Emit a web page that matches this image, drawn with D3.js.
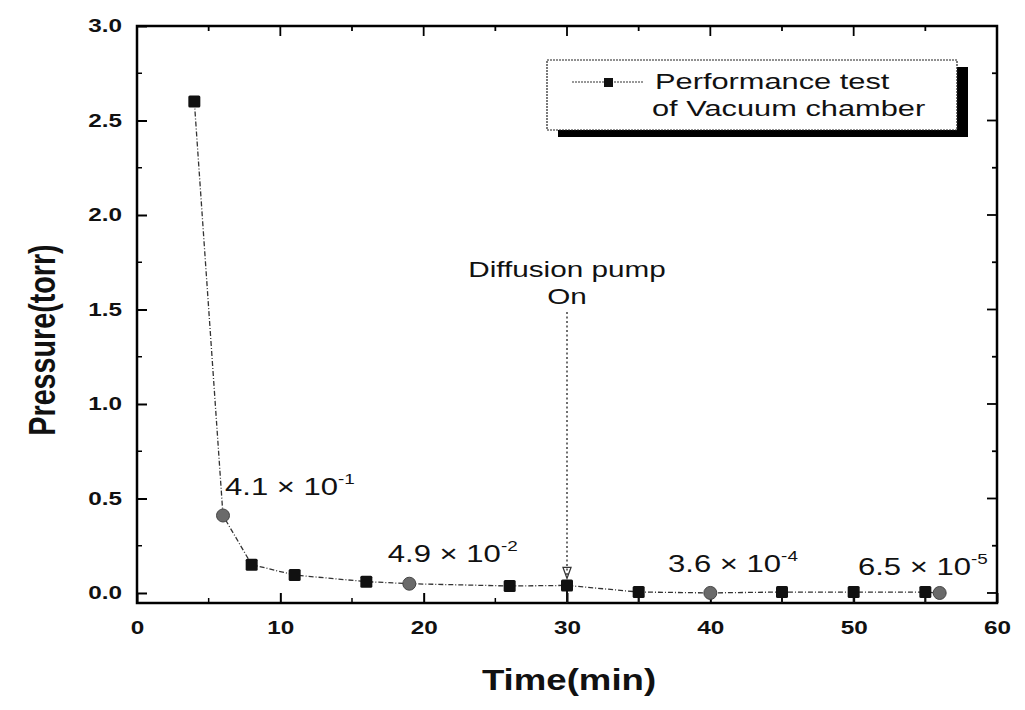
<!DOCTYPE html>
<html><head><meta charset="utf-8">
<script src="https://cdn.jsdelivr.net/npm/d3@7"></script>
<style>body{margin:0;background:#fff}svg text{font-family:"Liberation Sans",Arial,sans-serif}</style>
</head><body><svg id="c" width="1025" height="710"></svg>
<script>
const times = [4, 6, 8, 11, 16, 19, 26, 30, 35, 40, 45, 50, 55, 56];
const pressures = [2.6, 0.41, 0.15, 0.095, 0.06, 0.049, 0.037, 0.04, 0.005, 0.00036, 0.005, 0.005, 0.005, 0.000065];
const highlighted = [false, true, false, false, false, true, false, false, false, true, false, false, false, true];
const errorBarTimes = [30, 35, 45, 50, 55];
const xTicks = [0, 10, 20, 30, 40, 50, 60];
const yTicks = [0.0, 0.5, 1.0, 1.5, 2.0, 2.5, 3.0];
const annotations = [
  {t: 6.14, p: 0.52, base: "4.1 × 10", exp: "-1"},
  {t: 17.5, p: 0.165, base: "4.9 × 10", exp: "-2"},
  {t: 37.05, p: 0.11, base: "3.6 × 10", exp: "-4"},
  {t: 50.3, p: 0.095, base: "6.5 × 10", exp: "-5"}
];
const pumpLabel = ["Diffusion pump", "On"];
const pumpTime = 30, pumpPressure = 0.04;
const legendLines = ["Performance test", "of Vacuum chamber"];

const SX = 1.35; // horizontal stretch of the reference's lettering
const svg = d3.select("#c");
const L = 137, R = 997, T = 26, B = 603;
const x = d3.scaleLinear().domain([0, 60]).range([L, R]);
const y = d3.scaleLinear().domain([-0.053, 3.0]).range([B, T]);

function txt(px, py, s, size, opts = {}) {
  const t = svg.append("text")
    .attr("transform", `translate(${px},${py}) scale(${opts.sx || SX},1)`)
    .attr("font-size", size).attr("fill", "#111")
    .attr("text-anchor", opts.anchor || "start")
    .attr("font-weight", opts.bold ? "bold" : "normal");
  return t;
}

// frame
svg.append("rect").attr("x", L).attr("y", T).attr("width", R - L).attr("height", B - T)
  .attr("fill", "none").attr("stroke", "#000").attr("stroke-width", 2.5);

// axes
const xAxis = d3.axisBottom(x).tickValues(xTicks).tickFormat(d3.format("d")).tickSizeInner(-10).tickSizeOuter(0).tickPadding(18);
const gx = svg.append("g").attr("transform", `translate(0,${B})`).call(xAxis);
const yAxis = d3.axisLeft(y).tickValues(yTicks).tickFormat(d3.format(".1f")).tickSizeInner(-10).tickSizeOuter(0).tickPadding(15);
const gy = svg.append("g").attr("transform", `translate(${L},0)`).call(yAxis);
[gx, gy].forEach(g => {
  g.select(".domain").remove();
  g.selectAll("line").attr("stroke-width", 2);
  g.selectAll("text").attr("font-size", 18).attr("font-weight", "bold").attr("fill", "#111")
    .attr("font-family", "Liberation Sans, Arial, sans-serif");
});
gx.selectAll("text").attr("transform", `scale(${SX},1)`);
gy.selectAll("text").attr("x", -15 / SX).attr("transform", `scale(${SX},1)`);

// minor ticks
const xMinor = d3.range(5, 60, 10);
const yMinor = d3.range(0.25, 3, 0.5);
svg.append("g").selectAll("line").data(xMinor).join("line")
  .attr("x1", d => x(d)).attr("x2", d => x(d)).attr("y1", B).attr("y2", B - 5).attr("stroke", "#000").attr("stroke-width", 1.5);
svg.append("g").selectAll("line").data(yMinor).join("line")
  .attr("y1", d => y(d)).attr("y2", d => y(d)).attr("x1", L).attr("x2", L + 5).attr("stroke", "#000").attr("stroke-width", 1.5);
// mirrored top/right ticks
svg.append("g").selectAll("line").data(xTicks.concat(xMinor)).join("line")
  .attr("x1", d => x(d)).attr("x2", d => x(d)).attr("y1", T).attr("y2", d => T + (d % 10 === 0 ? 10 : 5)).attr("stroke", "#000").attr("stroke-width", 1.8);
svg.append("g").selectAll("line").data(yTicks.concat(yMinor)).join("line")
  .attr("y1", d => y(d)).attr("y2", d => y(d)).attr("x1", R).attr("x2", d => R - (Math.abs(d * 2 - Math.round(d * 2)) < 1e-6 ? 10 : 5)).attr("stroke", "#000").attr("stroke-width", 1.8);

// axis titles
txt((L + R) / 2 + 2, 690, "Time(min)", 30, {anchor: "middle", bold: true, sx: 1.22}).text("Time(min)");
svg.append("text").attr("transform", `translate(55,340) rotate(-90) scale(1,1.3)`).attr("text-anchor", "middle")
  .attr("font-size", 28.7).attr("font-weight", "bold").attr("fill", "#111").text("Pressure(torr)");

// data line
const data = times.map((t, i) => ({t, p: pressures[i], h: highlighted[i]}));
svg.append("path").datum(data)
  .attr("d", d3.line().x(d => x(d.t)).y(d => y(d.p)))
  .attr("fill", "none").attr("stroke", "#333").attr("stroke-width", 1.3).attr("stroke-dasharray", "5,2,1,2");

// error bar stems
svg.append("g").selectAll("line").data(data.filter(d => errorBarTimes.includes(d.t))).join("line")
  .attr("x1", d => x(d.t)).attr("x2", d => x(d.t)).attr("y1", d => y(d.p)).attr("y2", B)
  .attr("stroke", "#111").attr("stroke-width", 2);

// markers
svg.append("g").selectAll("rect").data(data.filter(d => !d.h)).join("rect")
  .attr("x", d => x(d.t) - 6).attr("y", d => y(d.p) - 6).attr("width", 12).attr("height", 12)
  .attr("rx", 1.5).attr("fill", "#111");
svg.append("g").selectAll("circle").data(data.filter(d => d.h)).join("circle")
  .attr("cx", d => x(d.t)).attr("cy", d => y(d.p)).attr("r", 6.5).attr("fill", "#6a6a6a").attr("stroke", "#444").attr("stroke-width", 1);

// annotations
annotations.forEach(a => {
  const tx = txt(x(a.t), y(a.p), "", 23);
  tx.append("tspan").attr("xml:space", "preserve").text(a.base.replace(/ /g, "\u00a0"));
  tx.append("tspan").attr("dy", -11).attr("font-size", 14).text(a.exp);
});

// diffusion pump annotation
txt(x(pumpTime), 277, "", 22, {anchor: "middle"}).text(pumpLabel[0]);
txt(x(pumpTime), 304, "", 22, {anchor: "middle"}).text(pumpLabel[1]);
svg.append("line").attr("x1", x(pumpTime)).attr("x2", x(pumpTime)).attr("y1", 312).attr("y2", y(pumpPressure) - 8)
  .attr("stroke", "#333").attr("stroke-width", 1.4).attr("stroke-dasharray", "2,2.5");
svg.append("path").attr("d", `M${x(pumpTime) - 4},${y(pumpPressure) - 18} L${x(pumpTime) + 4},${y(pumpPressure) - 18} L${x(pumpTime)},${y(pumpPressure) - 7} Z`)
  .attr("fill", "none").attr("stroke", "#333").attr("stroke-width", 1.3);

// legend
const lx = 547, ly = 60, lw = 410, lh = 70;
svg.append("rect").attr("x", lx + 11).attr("y", ly + 7).attr("width", lw).attr("height", lh).attr("fill", "#000");
svg.append("rect").attr("x", lx).attr("y", ly).attr("width", lw).attr("height", lh).attr("fill", "#fff").attr("stroke", "#222").attr("stroke-width", 1.2).attr("stroke-dasharray", "2,1");
svg.append("line").attr("x1", lx + 25).attr("x2", lx + 96).attr("y1", ly + 22).attr("y2", ly + 22)
  .attr("stroke", "#333").attr("stroke-width", 1.2).attr("stroke-dasharray", "2,1");
svg.append("rect").attr("x", lx + 57).attr("y", ly + 18).attr("width", 9).attr("height", 9).attr("fill", "#111");
txt(lx + 108, ly + 29, "", 22, {sx: 1.4}).text(legendLines[0]);
txt(lx + 105, ly + 56, "", 22, {sx: 1.4}).text(legendLines[1]);
</script></body></html>
